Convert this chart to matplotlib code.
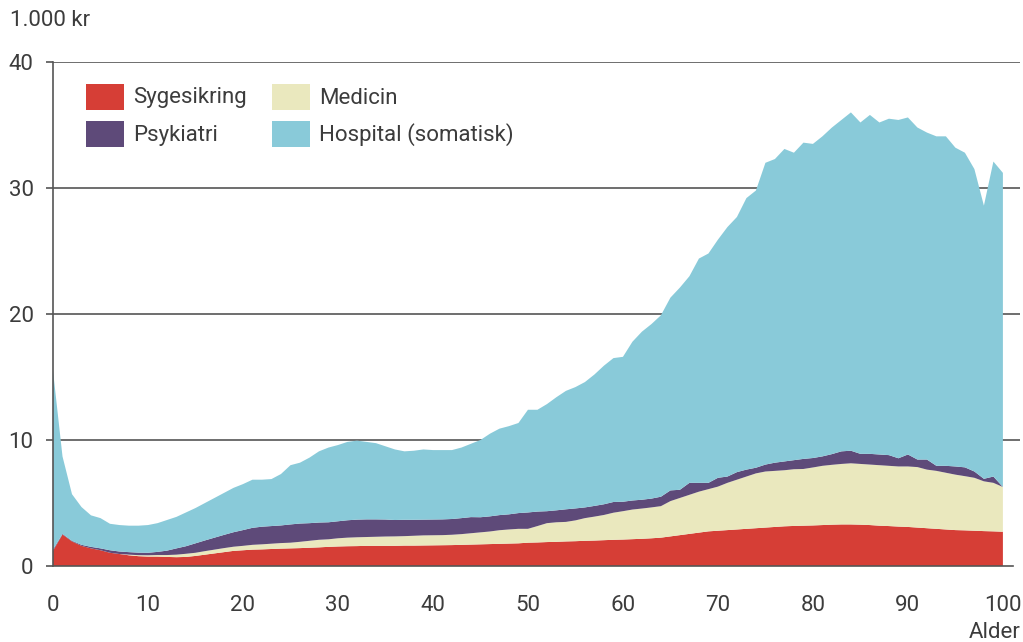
import numpy as np
import matplotlib
matplotlib.use('Agg')
import matplotlib.pyplot as plt
from matplotlib.patches import Rectangle

# values in 1.000 kr per age (0-100)
alder = list(range(0, 101))

sygesikring = [1.2, 2.5, 1.95, 1.6, 1.4, 1.25, 1.05, 0.95, 0.85, 0.78,
               0.75, 0.75, 0.72, 0.7, 0.72, 0.8, 0.9, 1.0, 1.1, 1.2,
               1.25, 1.3, 1.32, 1.35, 1.38, 1.4, 1.42, 1.45, 1.48, 1.52,
               1.55, 1.57, 1.58, 1.6, 1.6, 1.6, 1.6, 1.62, 1.62, 1.63,
               1.64, 1.65, 1.66, 1.68, 1.7, 1.72, 1.74, 1.76, 1.78, 1.8,
               1.85, 1.87, 1.9, 1.92, 1.95, 1.97, 2.0, 2.02, 2.05, 2.08,
               2.1, 2.13, 2.16, 2.2, 2.25, 2.35, 2.45, 2.55, 2.65, 2.75,
               2.8, 2.85, 2.9, 2.95, 3.0, 3.05, 3.1, 3.15, 3.18, 3.2,
               3.22, 3.25, 3.28, 3.3, 3.3, 3.28, 3.25, 3.2, 3.17, 3.13,
               3.1, 3.05, 3.0, 2.95, 2.9, 2.85, 2.83, 2.8, 2.77, 2.75,
               2.72]

medicin = [0, 0, 0, 0, 0, 0, 0, 0, 0.05, 0.08,
           0.1, 0.12, 0.15, 0.2, 0.25, 0.25, 0.28, 0.3, 0.32, 0.33,
           0.35, 0.38, 0.4, 0.42, 0.44, 0.45, 0.5, 0.55, 0.6, 0.6,
           0.65, 0.68, 0.7, 0.7, 0.72, 0.74, 0.75, 0.75, 0.78, 0.8,
           0.8, 0.8, 0.82, 0.85, 0.9, 0.95, 1.0, 1.08, 1.12, 1.15,
           1.1, 1.3, 1.5, 1.55, 1.55, 1.65, 1.8, 1.9, 2.0, 2.15,
           2.25, 2.35, 2.4, 2.45, 2.5, 2.8, 2.95, 3.1, 3.25, 3.35,
           3.5, 3.75, 3.95, 4.15, 4.35, 4.45, 4.45, 4.45, 4.5, 4.5,
           4.6, 4.7, 4.75, 4.8, 4.85, 4.82, 4.8, 4.8, 4.78, 4.77,
           4.8, 4.8, 4.65, 4.6, 4.5, 4.4, 4.3, 4.2, 3.95, 3.85,
           3.55]

psykiatri = [0.1, 0.05, 0.05, 0.08, 0.12, 0.15, 0.2, 0.2, 0.2, 0.2,
             0.2, 0.25, 0.35, 0.5, 0.6, 0.75, 0.85, 0.95, 1.05, 1.15,
             1.25, 1.35, 1.4, 1.4, 1.4, 1.45, 1.45, 1.4, 1.37, 1.35,
             1.35, 1.38, 1.4, 1.4, 1.38, 1.35, 1.3, 1.3, 1.27, 1.25,
             1.25, 1.25, 1.25, 1.27, 1.28, 1.2, 1.2, 1.2, 1.2, 1.25,
             1.3, 1.15, 0.95, 0.95, 1.0, 0.95, 0.85, 0.85, 0.85, 0.85,
             0.75, 0.72, 0.7, 0.7, 0.75, 0.85, 0.65, 0.95, 0.7, 0.5,
             0.7, 0.5, 0.6, 0.55, 0.45, 0.55, 0.65, 0.7, 0.72, 0.8,
             0.75, 0.75, 0.85, 1.0, 1.0, 0.8, 0.85, 0.85, 0.85, 0.65,
             0.95, 0.6, 0.8, 0.4, 0.55, 0.65, 0.7, 0.5, 0.2, 0.5,
             0.0]

hospital = [14.2, 6.15, 3.7, 3.0, 2.5, 2.4, 2.1, 2.1, 2.1, 2.14,
            2.2, 2.28, 2.43, 2.5, 2.68, 2.8, 2.97, 3.15, 3.33, 3.52,
            3.65, 3.82, 3.73, 3.73, 4.08, 4.7, 4.83, 5.2, 5.65, 5.93,
            6.05, 6.22, 6.27, 6.15, 6.05, 5.81, 5.6, 5.43, 5.48, 5.57,
            5.51, 5.5, 5.47, 5.6, 5.82, 6.13, 6.56, 6.86, 7.0, 7.15,
            8.15, 8.08, 8.5, 8.98, 9.4, 9.63, 9.95, 10.43, 11.0, 11.42,
            11.5, 12.6, 13.34, 13.85, 14.4, 15.3, 16.05, 16.4, 17.8, 18.2,
            18.9, 19.8, 20.25, 21.55, 22.0, 23.95, 24.1, 24.8, 24.4, 25.1,
            24.93, 25.4, 25.92, 26.3, 26.85, 26.3, 26.9, 26.35, 26.7, 26.85,
            26.75, 26.35, 25.95, 26.15, 26.15, 25.3, 24.97, 24.0, 21.68, 25.0,
            24.93]

labels = ['Sygesikring', 'Medicin', 'Psykiatri', 'Hospital (somatisk)']
colors = ['#d63e36', '#eae8be', '#5e4a79', '#89cad9']
text_color = '#3c3c3c'
grid_color = '#555555'
fs = 16

plt.rcParams['font.family'] = ['Roboto', 'DejaVu Sans']

fig = plt.figure(figsize=(10.23, 6.42), dpi=100)
ax = fig.add_axes([53 / 1023, 76 / 642, 967 / 1023, 504 / 642])

ax.stackplot(alder, sygesikring, medicin, psykiatri, hospital,
             colors=colors, linewidth=0, zorder=1)

ax.set_xlim(0, 101.8)
ax.set_ylim(0, 40)
ax.set_xticks(range(0, 101, 10))
ax.set_yticks(range(0, 41, 10))
for y in [10, 20, 30, 40]:
    ax.axhline(y, color=grid_color, linewidth=1.2, zorder=0)

for s in ['top', 'right']:
    ax.spines[s].set_visible(False)
ax.spines['left'].set_color(grid_color)
ax.spines['bottom'].set_color(grid_color)
ax.spines['left'].set_linewidth(1.2)
ax.spines['bottom'].set_linewidth(1.2)
ax.spines['bottom'].set_bounds(0, 101.1)
ax.spines['bottom'].set_zorder(3)

ax.tick_params(axis='y', length=5, width=1.2, color=grid_color,
               labelsize=fs, labelcolor=text_color, pad=9)
ax.tick_params(axis='x', length=0, labelsize=fs, labelcolor=text_color, pad=21)

fig.text(10 / 1023, 1 - 20 / 642, '1.000 kr', fontsize=fs, color=text_color,
         ha='left', va='center')
fig.text(1021 / 1023, 1 - 633 / 642, 'Alder', fontsize=fs, color=text_color,
         ha='right', va='center')

# legend drawn by hand
legend_items = [(86, 84, 0), (272, 84, 1), (86, 121, 2), (272, 121, 3)]
for px, py, i in legend_items:
    fig.patches.append(Rectangle((px / 1023, 1 - (py + 26) / 642), 38 / 1023, 26 / 642,
                                 transform=fig.transFigure, facecolor=colors[i],
                                 edgecolor='none'))
    fig.text((px + 47) / 1023, 1 - (py + 14) / 642, labels[i], fontsize=fs,
             color=text_color, ha='left', va='center')

fig.savefig('out.png', dpi=100)
